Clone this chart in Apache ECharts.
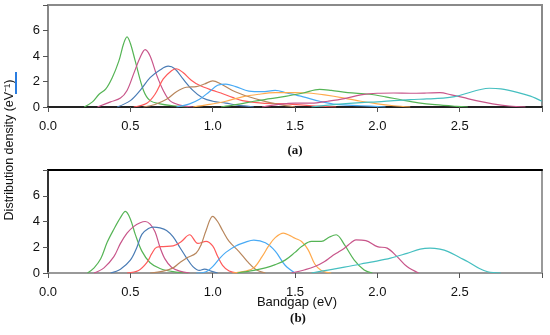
<!DOCTYPE html>
<html><head><meta charset="utf-8">
<script src="https://cdn.jsdelivr.net/npm/echarts@6/dist/echarts.min.js"></script>
<style>html,body{margin:0;padding:0;background:#fff}#c{width:550px;height:335px}</style>
</head><body><div id="c"></div>
<script>
// ---- Panel (a) ----
const aGreenX = [0.22,0.27,0.31,0.35,0.39,0.43,0.46,0.48,0.5,0.53,0.58,0.62,0.68,0.76,0.85];
const aGreenY = [0,0.4,1.0,1.4,2.3,3.6,5.0,5.5,5.0,3.6,1.3,0.5,0.25,0.1,0];
const aPinkX = [0.3,0.38,0.44,0.48,0.52,0.56,0.59,0.62,0.66,0.7,0.74,0.8,0.88];
const aPinkY = [0,0.4,0.7,1.3,2.6,3.9,4.5,4.0,2.5,1.3,0.5,0.15,0];
const aSteelX = [0.42,0.5,0.56,0.62,0.68,0.73,0.77,0.82,0.88,0.94,1.0,1.08,1.15,1.25];
const aSteelY = [0,0.5,1.3,2.3,2.9,3.2,3.0,2.2,1.3,0.7,0.45,0.3,0.15,0];
const aRedX = [0.52,0.6,0.65,0.7,0.75,0.78,0.82,0.87,0.92,1.0,1.05,1.12,1.18,1.3,1.45,1.6,1.75];
const aRedY = [0,0.3,1.0,2.2,2.85,3.0,2.7,2.1,1.7,1.3,1.1,0.75,0.5,0.3,0.25,0.1,0];
const aBrownX = [0.58,0.65,0.72,0.78,0.84,0.9,0.95,1.0,1.05,1.12,1.22,1.3,1.4,1.5];
const aBrownY = [0,0.2,0.6,1.2,1.55,1.6,1.8,2.05,1.8,1.3,0.8,0.5,0.2,0];
const aLBlueX = [0.78,0.86,0.92,0.98,1.03,1.08,1.14,1.22,1.3,1.38,1.45,1.55,1.65,1.75,1.9,2.05];
const aLBlueY = [0,0.25,0.6,1.2,1.7,1.8,1.6,1.25,1.2,1.3,1.1,0.8,0.45,0.2,0.1,0];
const aOrangeX = [0.88,0.98,1.08,1.18,1.28,1.38,1.5,1.58,1.68,1.8,1.9,2.0,2.1,2.2];
const aOrangeY = [0,0.2,0.45,0.8,1.0,1.12,1.13,1.1,0.95,0.7,0.45,0.25,0.1,0];
const aGreen2X = [1.05,1.15,1.25,1.35,1.45,1.55,1.65,1.72,1.82,1.95,2.05,2.15,2.25,2.35,2.48,2.55];
const aGreen2Y = [0,0.2,0.45,0.65,0.85,1.1,1.38,1.3,1.13,1.0,0.8,0.55,0.33,0.18,0.05,0];
const aPink2X = [1.3,1.4,1.5,1.6,1.7,1.8,1.9,2.0,2.1,2.2,2.3,2.38,2.45,2.52,2.6,2.7,2.8,2.9];
const aPink2Y = [0,0.2,0.3,0.3,0.45,0.65,0.95,1.08,1.1,1.08,1.1,1.13,0.95,0.75,0.5,0.25,0.08,0];
const aTealX = [1.6,1.75,1.9,2.0,2.1,2.2,2.3,2.4,2.47,2.55,2.62,2.68,2.75,2.85,2.93,3.0];
const aTealY = [0,0.2,0.35,0.4,0.5,0.58,0.63,0.7,0.82,1.1,1.35,1.47,1.42,1.15,0.85,0.45];

// ---- Panel (b) ----
const bGreenX = [0.24,0.28,0.32,0.36,0.4,0.44,0.47,0.5,0.53,0.57,0.62,0.68,0.76,0.85];
const bGreenY = [0,0.4,1.1,2.4,3.4,4.3,4.78,4.2,3.0,1.7,0.8,0.35,0.1,0];
const bPinkX = [0.28,0.34,0.4,0.44,0.48,0.52,0.56,0.59,0.62,0.65,0.68,0.71,0.75,0.8,0.86];
const bPinkY = [0,0.4,1.27,2.3,3.1,3.6,3.9,4.0,3.8,3.2,2.0,1.1,0.45,0.15,0];
const bSteelX = [0.38,0.44,0.5,0.54,0.57,0.61,0.64,0.68,0.72,0.76,0.8,0.84,0.88,0.92,0.95,0.99,1.03];
const bSteelY = [0,0.3,1.0,2.0,3.0,3.45,3.56,3.5,3.3,2.8,2.0,1.2,0.5,0.2,0.3,0.15,0];
const bRedX = [0.48,0.55,0.6,0.63,0.66,0.7,0.76,0.81,0.86,0.91,0.96,1.0,1.03,1.06,1.1,1.15];
const bRedY = [0,0.2,0.8,1.5,2.0,2.05,2.1,2.45,2.97,2.3,2.45,2.1,1.3,0.6,0.15,0];
const bBrownX = [0.62,0.7,0.76,0.8,0.84,0.9,0.93,0.96,1.0,1.03,1.06,1.1,1.16,1.21,1.26,1.32];
const bBrownY = [0,0.15,0.4,0.8,1.15,1.55,2.2,3.3,4.4,4.0,3.3,2.45,1.66,0.9,0.3,0];
const bLBlueX = [0.9,0.96,1.0,1.04,1.08,1.14,1.2,1.25,1.32,1.38,1.44,1.5];
const bLBlueY = [0,0.1,0.5,1.1,1.6,2.1,2.4,2.55,2.35,1.7,0.6,0];
const bOrangeX = [1.12,1.2,1.25,1.3,1.34,1.38,1.43,1.47,1.5,1.54,1.58,1.62,1.66,1.72];
const bOrangeY = [0,0.15,0.4,1.27,2.1,2.75,3.1,2.9,2.7,2.45,1.8,0.7,0.2,0];
const bGreen2X = [1.15,1.25,1.32,1.38,1.44,1.5,1.54,1.6,1.66,1.71,1.75,1.8,1.86,1.92,1.97];
const bGreen2Y = [0,0.2,0.4,0.65,1.0,1.6,2.05,2.45,2.45,2.8,2.97,2.2,1.0,0.23,0];
const bPink2X = [1.48,1.56,1.62,1.68,1.72,1.76,1.8,1.84,1.87,1.93,2.0,2.06,2.12,2.18,2.25];
const bPink2Y = [0,0.25,0.5,0.9,1.27,1.6,1.93,2.35,2.58,2.52,2.05,1.93,1.27,0.5,0];
const bTealX = [1.6,1.7,1.8,1.9,1.98,2.08,2.18,2.26,2.32,2.38,2.43,2.5,2.55,2.62,2.67,2.75];
const bTealY = [0,0.23,0.45,0.7,0.88,1.15,1.53,1.85,1.93,1.85,1.66,1.2,0.88,0.35,0.1,0];

const xTicks = [0, 0.5, 1.0, 1.5, 2.0, 2.5];
const yTicks = [0, 2, 4, 6];

const C = {green:'#55b455', pink:'#c8558a', steel:'#4a7cb5', red:'#ff5a5a', brown:'#b8865c',
  lblue:'#48aaf5', orange:'#ffaa4d', teal:'#45bfc0'};

const panelA = [[aGreenX,aGreenY,C.green],[aPinkX,aPinkY,C.pink],[aSteelX,aSteelY,C.steel],[aRedX,aRedY,C.red],
  [aBrownX,aBrownY,C.brown],[aLBlueX,aLBlueY,C.lblue],[aOrangeX,aOrangeY,C.orange],[aGreen2X,aGreen2Y,C.green],
  [aPink2X,aPink2Y,C.pink],[aTealX,aTealY,C.teal]];
const panelB = [[bGreenX,bGreenY,C.green],[bPinkX,bPinkY,C.pink],[bSteelX,bSteelY,C.steel],[bRedX,bRedY,C.red],
  [bBrownX,bBrownY,C.brown],[bLBlueX,bLBlueY,C.lblue],[bOrangeX,bOrangeY,C.orange],[bGreen2X,bGreen2Y,C.green],
  [bPink2X,bPink2Y,C.pink],[bTealX,bTealY,C.teal]];

function mk(list, idx){
  return list.map(([xs,ys,col]) => ({
    type:'line', xAxisIndex:idx, yAxisIndex:idx, smooth:0.35, showSymbol:false, symbol:'none',
    lineStyle:{color:col, width:1.2}, itemStyle:{color:col}, clip:true, silent:true,
    data: xs.map((x,i)=>[x, ys[i]])
  }));
}

const font = 'Liberation Sans, Arial, sans-serif';
function xAx(grid, lineColor){
  return {type:'value', gridIndex:grid, min:0, max:3, interval:0.5, position:'bottom',
    axisLine:{show:true, onZero:false, lineStyle:{color:lineColor, width:2}},
    axisTick:{show:true, length:5, lineStyle:{color:'#555'}},
    axisLabel:{show:true, margin:13, color:'#111', fontSize:13, fontFamily:font,
      formatter:v => xTicks.includes(Math.round(v*10)/10) ? v.toFixed(1) : ''},
    splitLine:{show:false}};
}
function yAx(grid, lineColor){
  return {type:'value', gridIndex:grid, min:0, max:8, interval:2,
    axisLine:{show:true, lineStyle:{color:lineColor, width:2}},
    axisTick:{show:true, length:5, lineStyle:{color:'#555'}},
    axisLabel:{show:true, margin:8, color:'#111', fontSize:13, fontFamily:font,
      formatter:v => yTicks.includes(v) ? String(v) : ''},
    splitLine:{show:false}};
}

const chart = echarts.init(document.getElementById('c'), null, {renderer:'canvas'});
chart.setOption({
  animation:false,
  backgroundColor:'#fff',
  grid:[
    {left:48, right:8, top:5, height:102, show:true, borderColor:'#8a8a8a', borderWidth:2},
    {left:48, right:8, top:170, height:103, show:true, borderColor:'#9a9a9a', borderWidth:2}
  ],
  xAxis:[xAx(0,'#222'), xAx(1,'#999'),
    {type:'value', gridIndex:1, min:0, max:3, position:'top', axisLine:{show:true, onZero:false, lineStyle:{color:'#000', width:2}},
     axisTick:{show:false}, axisLabel:{show:false}, splitLine:{show:false}}],
  yAxis:[yAx(0,'#888'), yAx(1,'#333')],
  series:[...mk(panelA,0), ...mk(panelB,1)],
  graphic:[
    {type:'text', x:10, y:150, rotation:Math.PI/2, style:{text:'Distribution density (eV⁻¹)', fill:'#111',
      font:'12.5px Liberation Sans, Arial, sans-serif', textAlign:'center', textVerticalAlign:'middle'}},
    {type:'rect', shape:{x:15, y:72, width:2, height:22}, style:{fill:'#2a7de1'}},
    {type:'text', x:295, y:151, style:{text:'(a)', fill:'#111', font:'bold 13px Liberation Serif, serif',
      textAlign:'center', textVerticalAlign:'middle'}},
    {type:'text', x:297, y:302, style:{text:'Bandgap (eV)', fill:'#111', font:'13px Liberation Sans, Arial, sans-serif',
      textAlign:'center', textVerticalAlign:'middle'}},
    {type:'text', x:298, y:319, style:{text:'(b)', fill:'#111', font:'bold 13px Liberation Serif, serif',
      textAlign:'center', textVerticalAlign:'middle'}}
  ]
});
</script></body></html>
